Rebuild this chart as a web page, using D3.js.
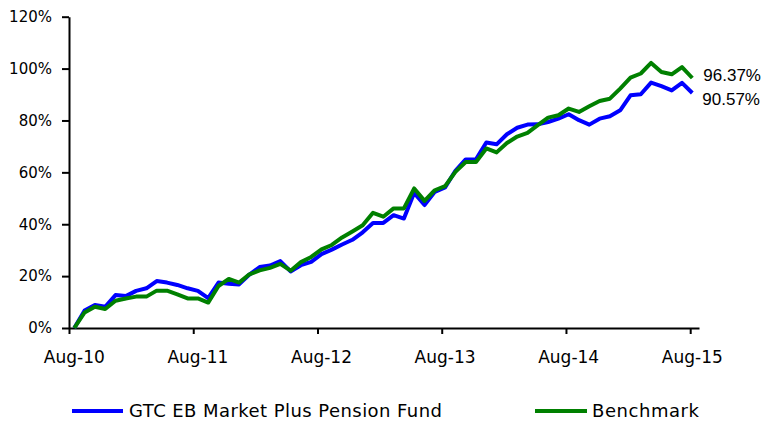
<!DOCTYPE html>
<html><head><meta charset="utf-8">
<script src="https://cdn.jsdelivr.net/npm/d3@7"></script>
<style>
html,body{margin:0;padding:0;background:#fff;}
svg{display:block;}
</style></head>
<body>
<svg id="c" width="766" height="423"></svg>
<script>
// ---- data ----
const months = d3.range(61); // Aug-10 .. Aug-15, monthly index
const fundValues = [0,6.7,8.9,8.2,12.7,12.3,14.3,15.3,18.1,17.5,16.6,15.3,14.3,11.5,17.5,17.1,16.8,20.6,23.5,24.1,25.8,21.8,24.2,25.5,28.5,30.2,32.2,34.0,36.9,40.5,40.5,43.5,42.2,52.1,47.4,52.5,54.2,60.6,65.0,65.0,71.5,70.8,74.7,77.2,78.4,78.5,79.4,80.7,82.4,80.1,78.4,80.7,81.6,83.9,89.7,90.1,94.6,93.2,91.6,94.5,90.57];
const benchValues = [0,6.0,8.2,7.3,10.5,11.4,12.1,12.1,14.4,14.4,13.0,11.4,11.4,9.8,16.2,18.9,17.5,20.7,22.2,23.2,24.7,22.1,25.4,27.4,30.3,32.0,34.9,37.2,39.6,44.4,42.9,46.1,46.1,53.8,49.0,53.1,54.7,60.2,64.0,64.0,69.2,67.7,71.3,73.8,75.2,78.2,81.1,82.0,84.6,83.3,85.5,87.5,88.4,92.3,96.5,98.1,102.2,98.7,97.8,100.6,96.37];
const xTickIdx = [0,12,24,36,48,60];
const xTickLabels = ["Aug-10","Aug-11","Aug-12","Aug-13","Aug-14","Aug-15"];
const yTicks = [0,20,40,60,80,100,120];
const seriesNames = ["GTC EB Market Plus Pension Fund","Benchmark"];
const endLabels = ["90.57%","96.37%"];

const svg = d3.select("#c");
const x = d3.scaleLinear().domain([0,60]).range([74.3,692.3]);     // point positions
const xAxisScale = d3.scaleLinear().domain([0,60.85]).range([69,699]); // date axis ticks
const y = d3.scaleLinear().domain([0,120]).range([328,16.7]);

// y axis
const ya = svg.append("g").attr("transform","translate(69,0)")
  .call(d3.axisLeft(y).tickValues(yTicks).tickFormat(d=>d+"%").tickSize(7).tickSizeOuter(0).tickPadding(10));
ya.select(".domain").attr("stroke","#000").attr("stroke-width",2);
ya.selectAll(".tick line").attr("stroke","#000").attr("stroke-width",2);
ya.selectAll(".tick text").attr("font-family","DejaVu Sans").attr("font-size",15).attr("fill","#000");

// x axis
const xa = svg.append("g").attr("transform","translate(0,328)")
  .call(d3.axisBottom(xAxisScale).tickValues(xTickIdx).tickFormat("").tickSize(6).tickSizeOuter(0));
xa.select(".domain").attr("stroke","#000").attr("stroke-width",2);
xa.selectAll(".tick line").attr("stroke","#000").attr("stroke-width",2);
svg.append("g").selectAll("text").data(xTickIdx).join("text")
  .attr("x",d=>x(d)).attr("y",363).attr("text-anchor","middle")
  .attr("font-family","DejaVu Sans").attr("font-size",17).attr("fill","#000")
  .text((d,i)=>xTickLabels[i]);

// lines
const line = d3.line().x((d,i)=>x(months[i])).y(d=>y(d));
svg.append("path").datum(fundValues).attr("d",line).attr("fill","none")
  .attr("stroke","#0000ff").attr("stroke-width",4).attr("stroke-linejoin","round");
svg.append("path").datum(benchValues).attr("d",line).attr("fill","none")
  .attr("stroke","#008000").attr("stroke-width",4).attr("stroke-linejoin","round");

// end labels
svg.append("text").attr("x",x(60)+10).attr("y",y(fundValues[60])+6).attr("dy","0.35em")
  .attr("font-family","Liberation Sans").attr("font-size",17).attr("fill","#000").text(endLabels[0]);
svg.append("text").attr("x",x(60)+11).attr("y",y(benchValues[60])-3).attr("dy","0.35em")
  .attr("font-family","Liberation Sans").attr("font-size",17).attr("fill","#000").text(endLabels[1]);

// legend
const lg = [{x1:72,x2:123,tx:129,w:313,c:"#0000ff"},{x1:535,x2:587,tx:592,w:107,c:"#008000"}];
lg.forEach((l,i)=>{
  svg.append("line").attr("x1",l.x1).attr("x2",l.x2).attr("y1",411).attr("y2",411)
    .attr("stroke",l.c).attr("stroke-width",4);
  svg.append("text").attr("x",l.tx).attr("y",417).attr("font-family","DejaVu Sans")
    .attr("font-size",18).attr("fill","#000").attr("textLength",l.w).attr("lengthAdjust","spacing")
    .text(seriesNames[i]);
});
</script>
</body></html>
